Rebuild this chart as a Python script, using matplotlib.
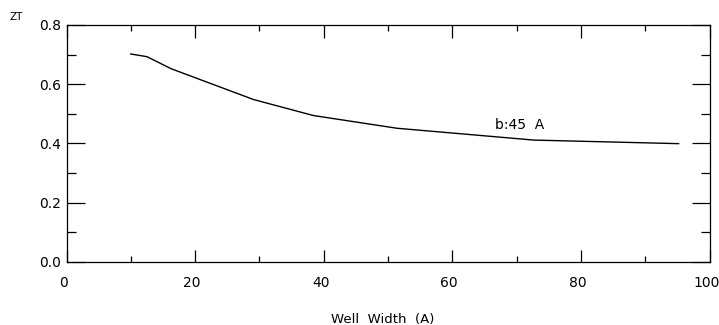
import matplotlib
matplotlib.use("Agg")
import matplotlib.pyplot as plt
import matplotlib.transforms as mtransforms
from matplotlib.ticker import MultipleLocator

well_width = [10, 12.5, 16.3, 29.1, 38.4, 51.4, 72.7, 95.2]
zt = [0.702, 0.693, 0.652, 0.548, 0.494, 0.451, 0.411, 0.399]
x_ticks = [0, 20, 40, 60, 80, 100]
x_tick_labels = ["0", "20", "40", "60", "80", "100"]
y_ticks = [0, 0.2, 0.4, 0.6, 0.8]
y_tick_labels = ["0.0", "0.2", "0.4", "0.6", "0.8"]
label_text = "b:45  A"

fig = plt.figure(figsize=(7.19, 3.25), dpi=100)
ax = fig.add_axes([66.5/719, 1-261.7/325, (709.5-66.5)/719, (261.7-25)/325])
ax.plot(well_width, zt, color="black", lw=1.0)
ax.set_xlim(0, 100)
ax.set_ylim(0, 0.8)
ax.xaxis.set_minor_locator(MultipleLocator(10))
ax.yaxis.set_minor_locator(MultipleLocator(0.1))
ax.set_xticks(x_ticks)
ax.set_xticklabels(x_tick_labels)
ax.set_yticks(y_ticks)
ax.set_yticklabels(y_tick_labels)
ax.tick_params(axis="x", which="major", direction="in", length=9, width=0.9, top=True, pad=10, labelsize=10)
ax.tick_params(axis="x", which="minor", direction="in", length=4.5, width=0.9, top=True)
ax.tick_params(axis="y", which="major", direction="in", length=13, width=0.9, right=True, pad=4, labelsize=10)
ax.tick_params(axis="y", which="minor", direction="in", length=6.5, width=0.9, right=True)
for s in ax.spines.values():
    s.set_linewidth(0.9)
shift = mtransforms.ScaledTranslation(-3/100, 0, fig.dpi_scale_trans)
for lab in ax.get_xticklabels():
    lab.set_transform(lab.get_transform() + shift)
ax.text(66.7, 0.4635, label_text, fontsize=10, ha="left", va="center")
fig.text(383/719, 1-319/325, "Well  Width  (A)", ha="center", va="center", fontsize=9.5)
fig.text(16.5/719, 1-17/325, "ZT", ha="center", va="center", fontsize=7.5)
fig.savefig("out.png", dpi=100)
